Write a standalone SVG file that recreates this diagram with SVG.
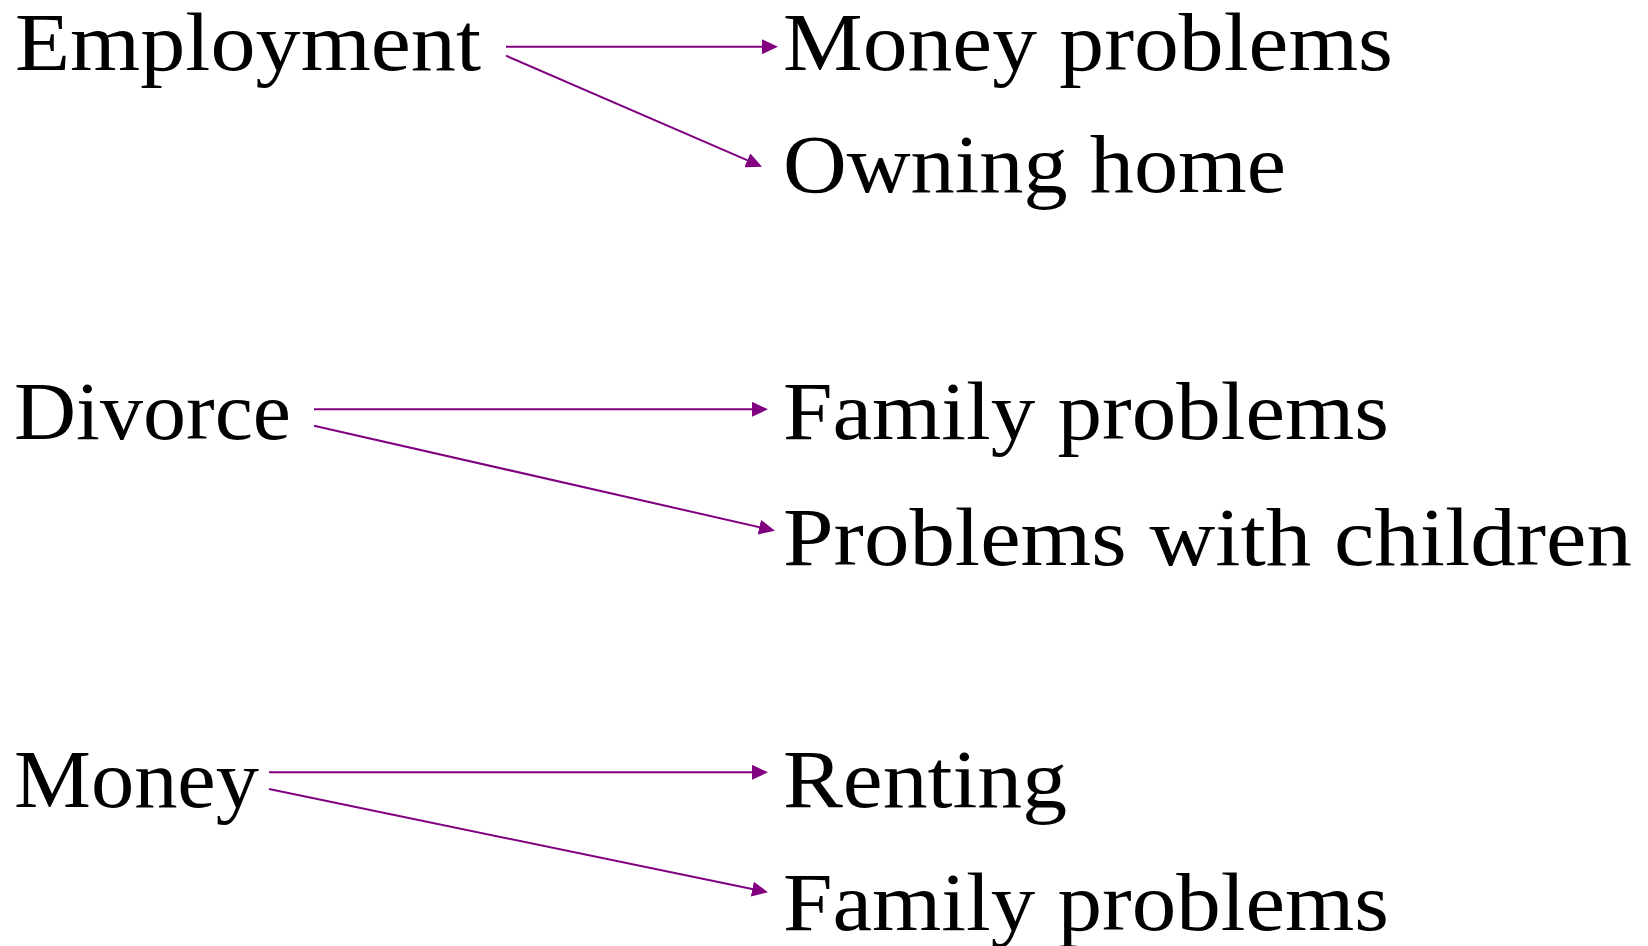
<svg xmlns="http://www.w3.org/2000/svg" width="1648" height="946" viewBox="0 0 1648 946">
<style>
  .lbl { font-family: "Liberation Serif", "Times New Roman", serif; font-size: 82px; fill: #000; }
  .edge { stroke: #800080; stroke-width: 2; fill: none; marker-end: url(#arr); }
</style>
<defs>
  <marker id="arr" markerUnits="userSpaceOnUse" markerWidth="16" markerHeight="15" refX="6" refY="7.5" orient="auto" viewBox="0 0 16 15">
    <path d="M0,0 L16,7.5 L0,15 z" fill="#800080"/>
  </marker>
</defs>
<rect width="1648" height="946" fill="#fff"/>
<g id="n-employment"><text class="lbl" x="15" y="70" textLength="466" lengthAdjust="spacingAndGlyphs">Employment</text></g>
<g id="n-money-problems"><text class="lbl" x="783" y="70" textLength="610" lengthAdjust="spacingAndGlyphs">Money problems</text></g>
<g id="n-owning-home"><text class="lbl" x="783" y="192" textLength="503" lengthAdjust="spacingAndGlyphs">Owning home</text></g>
<g id="n-divorce"><text class="lbl" x="14" y="439" textLength="277" lengthAdjust="spacingAndGlyphs">Divorce</text></g>
<g id="n-family-problems-1"><text class="lbl" x="783" y="439" textLength="606" lengthAdjust="spacingAndGlyphs">Family problems</text></g>
<g id="n-problems-children"><text class="lbl" x="783" y="565" textLength="849" lengthAdjust="spacingAndGlyphs">Problems with children</text></g>
<g id="n-money"><text class="lbl" x="14" y="807" textLength="245" lengthAdjust="spacingAndGlyphs">Money</text></g>
<g id="n-renting"><text class="lbl" x="783" y="807" textLength="284" lengthAdjust="spacingAndGlyphs">Renting</text></g>
<g id="n-family-problems-2"><text class="lbl" x="783" y="930" textLength="606" lengthAdjust="spacingAndGlyphs">Family problems</text></g>
<g id="connectors">
  <line class="edge" x1="506" y1="46.7" x2="768" y2="46.7"/>
  <line class="edge" x1="506" y1="55.7" x2="752.8" y2="162.7"/>
  <line class="edge" x1="314" y1="409.3" x2="758" y2="409.3"/>
  <line class="edge" x1="314" y1="425.7" x2="765.2" y2="528.5"/>
  <line class="edge" x1="269" y1="772.3" x2="758" y2="772.3"/>
  <line class="edge" x1="269" y1="789" x2="758.2" y2="890.3"/>
</g>
</svg>
